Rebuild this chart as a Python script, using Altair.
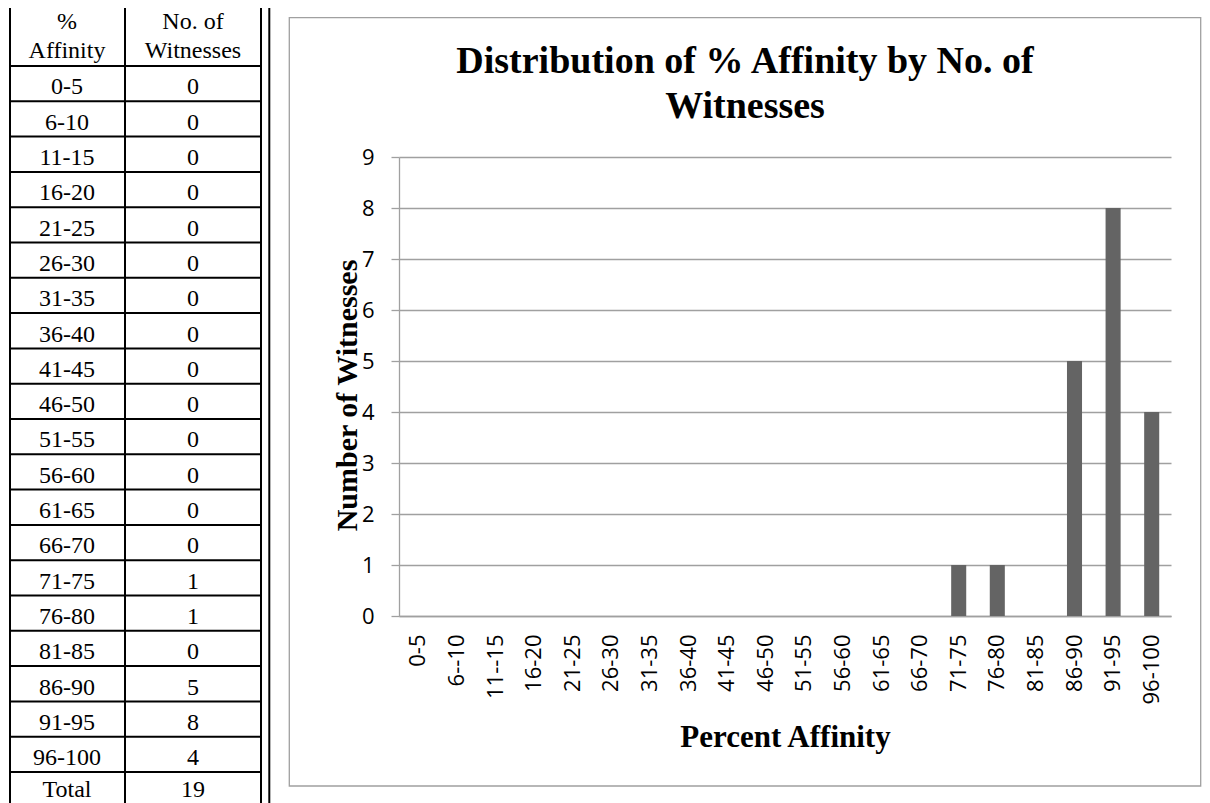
import altair as alt
import pandas as pd

# ---------------- data ----------------
table_ranges = ["0-5", "6-10", "11-15", "16-20", "21-25", "26-30", "31-35", "36-40",
                "41-45", "46-50", "51-55", "56-60", "61-65", "66-70", "71-75", "76-80",
                "81-85", "86-90", "91-95", "96-100"]
axis_labels = ["0-5", "6--10", "11--15", "16-20", "21-25", "26-30", "31-35", "36-40",
               "41-45", "46-50", "51-55", "56-60", "61-65", "66-70", "71-75", "76-80",
               "81-85", "86-90", "91-95", "96-100"]
witnesses = [0, 0, 0, 0, 0, 0, 0, 0, 0, 0, 0, 0, 0, 0, 1, 1, 0, 5, 8, 4]
total_label = "Total"
total_value = 19
header_col1 = ["%", "Affinity"]
header_col2 = ["No. of", "Witnesses"]
chart_title = ["Distribution of % Affinity by No. of", "Witnesses"]
x_title = "Percent Affinity"
y_title = "Number of Witnesses"
y_ticks = [0, 1, 2, 3, 4, 5, 6, 7, 8, 9]

# ---------------- layout ----------------
PAD_L, PAD_T = 391, 149
W, H = 772, 459
SVG_W, SVG_H = 1194, 795
PX0, PY0 = 8 + PAD_L, 8 + PAD_T          # page position of plot origin

SERIF = "Liberation Serif, Times New Roman, serif"
SANS = "Open Sans"
GRAY = "#a0a0a0"
BAR = "#646464"

TBL_X = [10, 125, 261]
TBL_TOP = 3.3
ROW0 = 66
ROW_H = 35.3
N_ROWS = len(table_ranges) + 1
COL_CX = [67, 193]


def PX(field):
    return alt.X(field, type="quantitative",
                 scale=alt.Scale(domain=[PX0, PX0 + W], nice=False, zero=False), axis=None)


def PY(field):
    return alt.Y(field, type="quantitative",
                 scale=alt.Scale(domain=[PY0, PY0 + H], nice=False, zero=False, reverse=True),
                 axis=None)


# ---------------- frames ----------------
frame_df = pd.DataFrame({"x": [289.3], "x2": [1200.7], "y": [17.7], "y2": [786]})
frame_rect = alt.Chart(frame_df).mark_rect(
    fillOpacity=0, stroke=GRAY, strokeWidth=1.3, clip=False
).encode(x=PX("x"), x2=alt.X2("x2"), y=PY("y"), y2=alt.Y2("y2"))

outer_df = pd.DataFrame({"x": [269.3], "x2": [269.3], "y": [6.7], "y2": [820]})
outer_rule = alt.Chart(outer_df).mark_rule(color="black", strokeWidth=2, clip=False).encode(
    x=PX("x"), x2=alt.X2("x2"), y=PY("y"), y2=alt.Y2("y2"))

# ---------------- bar chart ----------------
bar_df = pd.DataFrame({"range": axis_labels, "count": witnesses})
bars = alt.Chart(bar_df).mark_bar(color=BAR, clip=False).encode(
    x=alt.X("range:N", sort=axis_labels,
            scale=alt.Scale(paddingInner=0.61, paddingOuter=0.305),
            axis=alt.Axis(title=x_title, labelAngle=270, labelAlign="right",
                          labelBaseline="middle", labelFont=SANS, labelFontSize=22,
                          labelColor="black", labelPadding=18, ticks=False, tickSize=0,
                          domainColor=GRAY, domainWidth=1.3, grid=False,
                          titleFont=SERIF, titleFontSize=31, titleFontWeight="bold",
                          titleColor="black", titleX=W / 2, titleY=130.7,
                          titleBaseline="alphabetic", titleAlign="center")),
    y=alt.Y("count:Q", scale=alt.Scale(domain=[0, 9], nice=False),
            axis=alt.Axis(title=y_title, values=y_ticks, format="d", labelFont=SANS,
                          labelFontSize=22, labelColor="black", labelPadding=17,
                          tickSize=8, tickColor=GRAY, tickWidth=1.3,
                          domainColor=GRAY, domainWidth=1.3,
                          grid=True, gridColor=GRAY, gridWidth=1.3,
                          titleFont=SERIF, titleFontSize=30, titleFontWeight="bold",
                          titleColor="black", titleAngle=270, titleX=-43, titleY=238,
                          titleBaseline="alphabetic", titleAlign="center")),
)

# ---------------- chart title ----------------
title_df = pd.DataFrame({"text": chart_title, "x": [745, 745], "y": [72.7, 117.5]})
title_text = alt.Chart(title_df).mark_text(
    font=SERIF, fontSize=38, fontWeight="bold", color="black",
    align="center", baseline="alphabetic", clip=False
).encode(x=PX("x"), y=PY("y"), text="text:N")

# ---------------- table ----------------
bottom = ROW0 + ROW_H * N_ROWS
lines = []
for yy in [TBL_TOP, ROW0] + [ROW0 + ROW_H * i for i in range(1, N_ROWS + 1)]:
    lines.append({"x": TBL_X[0], "x2": TBL_X[-1], "y": yy, "y2": yy})
for xx in TBL_X:
    lines.append({"x": xx, "x2": xx, "y": TBL_TOP, "y2": bottom})
table_lines = alt.Chart(pd.DataFrame(lines)).mark_rule(
    color="black", strokeWidth=2, clip=False
).encode(x=PX("x"), x2=alt.X2("x2"), y=PY("y"), y2=alt.Y2("y2"))

cells = []
for k, (a, b) in enumerate(zip(header_col1, header_col2)):
    yb = [29.3, 58.3][k]
    cells.append({"text": a, "x": COL_CX[0], "y": yb})
    cells.append({"text": b, "x": COL_CX[1], "y": yb})
row_labels = table_ranges + [total_label]
row_values = witnesses + [total_value]
for i, (lab, val) in enumerate(zip(row_labels, row_values)):
    yb = ROW0 + ROW_H * i + 28.4
    if i == N_ROWS - 1:
        yb = min(yb, 797)
    cells.append({"text": lab, "x": COL_CX[0], "y": yb})
    cells.append({"text": str(val), "x": COL_CX[1], "y": yb})
table_text = alt.Chart(pd.DataFrame(cells)).mark_text(
    font=SERIF, fontSize=24, color="black", align="center", baseline="alphabetic", clip=False
).encode(x=PX("x"), y=PY("y"), text="text:N")

chart = alt.layer(
    frame_rect, outer_rule, bars, title_text, table_lines, table_text
).resolve_scale(
    x="independent", y="independent"
).properties(
    width=W, height=H,
    padding={"left": PAD_L, "top": PAD_T, "right": SVG_W - PAD_L - W, "bottom": SVG_H - PAD_T - H},
    autosize=alt.AutoSizeParams(type="none"),
    background="white",
).configure_view(stroke="transparent")

chart.save("out.html", embed_options={"renderer": "svg", "actions": False})
